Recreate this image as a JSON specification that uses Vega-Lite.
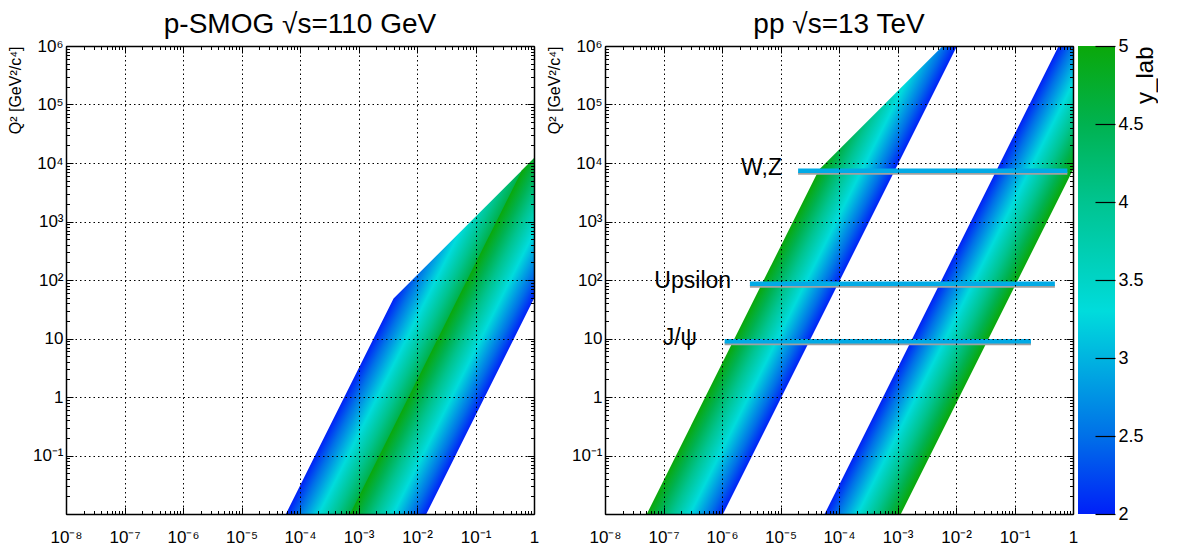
{
  "$schema": "https://vega.github.io/schema/vega-lite/v6.json",
  "background": "white",
  "padding": {"left": 6, "top": 11, "right": 0, "bottom": 0},
  "config": {
    "view": {"stroke": null},
    "font": "Liberation Sans",
    "axis": {"labelFont": "Liberation Sans", "titleFont": "Liberation Sans", "labelColor": "black", "titleColor": "black", "titleFontWeight": "normal"},
    "title": {"font": "Liberation Sans", "fontWeight": "normal", "fontSize": 28, "color": "black", "baseline": "alphabetic", "offset": -2}
  },
  "spacing": 6,
  "hconcat": [
    {
      "width": 468,
      "height": 468,
      "title": {"text": "p-SMOG √s=110 GeV", "frame": "group"},
      "layer": [
        {
          "data": {"values": [
            {"Q2": 0.01, "xlo": 5.731e-5, "xhi": 1.151e-3},
            {"Q2": 48.08, "xlo": 3.974e-3, "xhi": 0.07981},
            {"Q2": 7547, "xlo": 0.6237, "xhi": 1},
            {"Q2": 12100, "xlo": 1, "xhi": 1}
          ]},
          "mark": {"type": "area", "orient": "horizontal", "opacity": 1,
            "color": {"gradient": "linear", "x1": 0.4735, "y1": 0.3395, "x2": 0.6764, "y2": 0.4850,
              "stops": [{"offset": 0, "color": "#0020f8"}, {"offset": 0.1667, "color": "#0070e8"}, {"offset": 0.3333, "color": "#00b4e0"}, {"offset": 0.4333, "color": "#00dcdc"}, {"offset": 0.5, "color": "#00d4c6"}, {"offset": 0.6667, "color": "#00c490"}, {"offset": 0.8333, "color": "#00b250"}, {"offset": 1, "color": "#0aa80a"}]}},
          "encoding": {
            "x": {"field": "xlo", "type": "quantitative", "scale": {"type": "log", "domain": [1e-8, 1], "nice": false},
              "axis": {"orient": "bottom", "tickCount": 20, "labelOverlap": false, "labelFlush": false, "labelBound": false,
                "labelExpr": "abs(log(datum.value)/LN10-round(log(datum.value)/LN10))>0.001 ? '' : ['10⁻⁸','10⁻⁷','10⁻⁶','10⁻⁵','10⁻⁴','10⁻³','10⁻²','10⁻¹','1'][round(log(datum.value)/LN10)+8]",
                "labelFontSize": 17, "labelPadding": 22,
                "tickSize": {"condition": {"test": "abs(log(datum.value)/LN10-round(log(datum.value)/LN10))<0.001", "value": -7}, "value": -3.5},
                "tickColor": "black", "tickWidth": 1, "domainColor": "black", "domainWidth": 1.5,
                "grid": true, "gridColor": "black", "gridWidth": 1, "gridDash": [1.5, 3],
                "gridOpacity": {"condition": {"test": "abs(log(datum.value)/LN10-round(log(datum.value)/LN10))<0.001", "value": 1}, "value": 0},
                "title": "x", "titleAnchor": "end", "titleFontSize": 15, "titlePadding": 0, "zindex": 1}},
            "x2": {"field": "xhi"},
            "y": {"field": "Q2", "type": "quantitative", "scale": {"type": "log", "domain": [0.01, 1000000], "nice": false},
              "axis": {"orient": "left", "tickCount": 20, "labelOverlap": false, "labelFlush": false, "labelBound": false,
                "labelExpr": "abs(log(datum.value)/LN10-round(log(datum.value)/LN10))>0.001 ? '' : ['','10⁻¹','1','10','10²','10³','10⁴','10⁵','10⁶'][round(log(datum.value)/LN10)+2]",
                "labelFontSize": 17, "labelPadding": 10,
                "tickSize": {"condition": {"test": "abs(log(datum.value)/LN10-round(log(datum.value)/LN10))<0.001", "value": -7}, "value": -3.5},
                "tickColor": "black", "tickWidth": 1, "domainColor": "black", "domainWidth": 1.5,
                "grid": true, "gridColor": "black", "gridWidth": 1, "gridDash": [1.5, 3],
                "gridOpacity": {"condition": {"test": "abs(log(datum.value)/LN10-round(log(datum.value)/LN10))<0.001", "value": 1}, "value": 0},
                "title": "Q² [GeV²/c⁴]", "titleAnchor": "end", "titleFontSize": 16, "titlePadding": 7, "minExtent": 36, "maxExtent": 36, "zindex": 1}}
          }
        },
        {
          "data": {"values": [
            {"Q2": 0.01, "xlo": 7.179e-4, "xhi": 0.01442},
            {"Q2": 48.08, "xlo": 0.04978, "xhi": 1},
            {"Q2": 7547, "xlo": 0.6237, "xhi": 1},
            {"Q2": 12100, "xlo": 1, "xhi": 1}
          ]},
          "mark": {"type": "area", "orient": "horizontal", "opacity": 1,
            "color": {"gradient": "linear", "x1": 0.7138, "y1": 0.6905, "x2": 0.4997, "y2": 0.4834,
              "stops": [{"offset": 0, "color": "#0020f8"}, {"offset": 0.1667, "color": "#0070e8"}, {"offset": 0.3333, "color": "#00b4e0"}, {"offset": 0.4333, "color": "#00dcdc"}, {"offset": 0.5, "color": "#00d4c6"}, {"offset": 0.6667, "color": "#00c490"}, {"offset": 0.8333, "color": "#00b250"}, {"offset": 1, "color": "#0aa80a"}]}},
          "encoding": {
            "x": {"field": "xlo", "type": "quantitative", "scale": {"type": "log", "domain": [1e-8, 1], "nice": false},
              "axis": {"orient": "top", "tickCount": 20, "labels": false, "grid": false, "title": null,
                "tickSize": {"condition": {"test": "abs(log(datum.value)/LN10-round(log(datum.value)/LN10))<0.001", "value": -7}, "value": -3.5},
                "tickColor": "black", "tickWidth": 1, "domainColor": "black", "domainWidth": 1.5, "zindex": 1}},
            "x2": {"field": "xhi"},
            "y": {"field": "Q2", "type": "quantitative", "scale": {"type": "log", "domain": [0.01, 1000000], "nice": false},
              "axis": {"orient": "right", "tickCount": 20, "labels": false, "grid": false, "title": null,
                "tickSize": {"condition": {"test": "abs(log(datum.value)/LN10-round(log(datum.value)/LN10))<0.001", "value": -7}, "value": -3.5},
                "tickColor": "black", "tickWidth": 1, "domainColor": "black", "domainWidth": 1.5, "zindex": 1}}
          }
        }
      ],
      "resolve": {"axis": {"x": "independent", "y": "independent"}}
    },
    {
      "spacing": 0,
      "hconcat": [
        {
          "width": 468,
          "height": 468,
          "title": {"text": "pp √s=13 TeV", "frame": "group"},
          "layer": [
            {
              "data": {"values": [
                {"Q2": 0.01, "xlo": 5.183e-8, "xhi": 1.041e-6},
                {"Q2": 7674, "xlo": 4.541e-5, "xhi": 9.12e-4},
                {"Q2": 1000000, "xlo": 5.917e-3, "xhi": 0.01041}
              ]},
              "mark": {"type": "area", "orient": "horizontal", "opacity": 1,
                "color": {"gradient": "linear", "x1": 0.6374, "y1": 0.4807, "x2": 0.4808, "y2": 0.3626,
                  "stops": [{"offset": 0, "color": "#0020f8"}, {"offset": 0.1667, "color": "#0070e8"}, {"offset": 0.3333, "color": "#00b4e0"}, {"offset": 0.4333, "color": "#00dcdc"}, {"offset": 0.5, "color": "#00d4c6"}, {"offset": 0.6667, "color": "#00c490"}, {"offset": 0.8333, "color": "#00b250"}, {"offset": 1, "color": "#0aa80a"}]}},
              "encoding": {
                "x": {"field": "xlo", "type": "quantitative", "scale": {"type": "log", "domain": [1e-8, 1], "nice": false},
                  "axis": {"orient": "bottom", "tickCount": 20, "labelOverlap": false, "labelFlush": false, "labelBound": false,
                    "labelExpr": "abs(log(datum.value)/LN10-round(log(datum.value)/LN10))>0.001 ? '' : ['10⁻⁸','10⁻⁷','10⁻⁶','10⁻⁵','10⁻⁴','10⁻³','10⁻²','10⁻¹','1'][round(log(datum.value)/LN10)+8]",
                    "labelFontSize": 17, "labelPadding": 22,
                    "tickSize": {"condition": {"test": "abs(log(datum.value)/LN10-round(log(datum.value)/LN10))<0.001", "value": -7}, "value": -3.5},
                    "tickColor": "black", "tickWidth": 1, "domainColor": "black", "domainWidth": 1.5,
                    "grid": true, "gridColor": "black", "gridWidth": 1, "gridDash": [1.5, 3],
                    "gridOpacity": {"condition": {"test": "abs(log(datum.value)/LN10-round(log(datum.value)/LN10))<0.001", "value": 1}, "value": 0},
                    "title": "x", "titleAnchor": "end", "titleFontSize": 15, "titlePadding": 0, "zindex": 1}},
                "x2": {"field": "xhi"},
                "y": {"field": "Q2", "type": "quantitative", "scale": {"type": "log", "domain": [0.01, 1000000], "nice": false},
                  "axis": {"orient": "left", "tickCount": 20, "labelOverlap": false, "labelFlush": false, "labelBound": false,
                    "labelExpr": "abs(log(datum.value)/LN10-round(log(datum.value)/LN10))>0.001 ? '' : ['','10⁻¹','1','10','10²','10³','10⁴','10⁵','10⁶'][round(log(datum.value)/LN10)+2]",
                    "labelFontSize": 17, "labelPadding": 10,
                    "tickSize": {"condition": {"test": "abs(log(datum.value)/LN10-round(log(datum.value)/LN10))<0.001", "value": -7}, "value": -3.5},
                    "tickColor": "black", "tickWidth": 1, "domainColor": "black", "domainWidth": 1.5,
                    "grid": true, "gridColor": "black", "gridWidth": 1, "gridDash": [1.5, 3],
                    "gridOpacity": {"condition": {"test": "abs(log(datum.value)/LN10-round(log(datum.value)/LN10))<0.001", "value": 1}, "value": 0},
                    "title": "Q² [GeV²/c⁴]", "titleAnchor": "end", "titleFontSize": 16, "titlePadding": 7, "minExtent": 36, "maxExtent": 36, "zindex": 1}}
              }
            },
            {
              "data": {"values": [
                {"Q2": 0.01, "xlo": 5.685e-5, "xhi": 1.142e-3},
                {"Q2": 7674, "xlo": 0.04978, "xhi": 1},
                {"Q2": 1000000, "xlo": 0.5684, "xhi": 1}
              ]},
              "mark": {"type": "area", "orient": "horizontal", "opacity": 1,
                "color": {"gradient": "linear", "x1": 0.4991, "y1": 0.4703, "x2": 0.6617, "y2": 0.6235,
                  "stops": [{"offset": 0, "color": "#0020f8"}, {"offset": 0.1667, "color": "#0070e8"}, {"offset": 0.3333, "color": "#00b4e0"}, {"offset": 0.4333, "color": "#00dcdc"}, {"offset": 0.5, "color": "#00d4c6"}, {"offset": 0.6667, "color": "#00c490"}, {"offset": 0.8333, "color": "#00b250"}, {"offset": 1, "color": "#0aa80a"}]}},
              "encoding": {
                "x": {"field": "xlo", "type": "quantitative", "scale": {"type": "log", "domain": [1e-8, 1], "nice": false},
                  "axis": {"orient": "top", "tickCount": 20, "labels": false, "grid": false, "title": null,
                    "tickSize": {"condition": {"test": "abs(log(datum.value)/LN10-round(log(datum.value)/LN10))<0.001", "value": -7}, "value": -3.5},
                    "tickColor": "black", "tickWidth": 1, "domainColor": "black", "domainWidth": 1.5, "zindex": 1}},
                "x2": {"field": "xhi"},
                "y": {"field": "Q2", "type": "quantitative", "scale": {"type": "log", "domain": [0.01, 1000000], "nice": false},
                  "axis": {"orient": "right", "tickCount": 20, "labels": false, "grid": false, "title": null,
                    "tickSize": {"condition": {"test": "abs(log(datum.value)/LN10-round(log(datum.value)/LN10))<0.001", "value": -7}, "value": -3.5},
                    "tickColor": "black", "tickWidth": 1, "domainColor": "black", "domainWidth": 1.5, "zindex": 1}}
              }
            },
            {
              "data": {"values": [
                {"name": "W,Z", "Q2": 7400, "xs": 2.0e-5, "xe": 0.8, "tx": 1.06e-5},
                {"name": "Upsilon", "Q2": 86, "xs": 3.0e-6, "xe": 0.49, "tx": 1.43e-6},
                {"name": "J/ψ", "Q2": 9.0, "xs": 1.11e-6, "xe": 0.191, "tx": 3.74e-7}
              ]},
              "layer": [
                {
                  "mark": {"type": "rule", "color": "#a0a0a0", "strokeWidth": 3, "yOffset": 2.5},
                  "encoding": {
                    "x": {"field": "xs", "type": "quantitative", "scale": {"type": "log", "domain": [1e-8, 1], "nice": false}, "axis": null},
                    "x2": {"field": "xe"},
                    "y": {"field": "Q2", "type": "quantitative", "scale": {"type": "log", "domain": [0.01, 1000000], "nice": false}, "axis": null}
                  }
                },
                {
                  "mark": {"type": "rule", "color": "#00aae6", "strokeWidth": 4.5},
                  "encoding": {
                    "x": {"field": "xs", "type": "quantitative", "scale": {"type": "log", "domain": [1e-8, 1], "nice": false}, "axis": null},
                    "x2": {"field": "xe"},
                    "y": {"field": "Q2", "type": "quantitative", "scale": {"type": "log", "domain": [0.01, 1000000], "nice": false}, "axis": null}
                  }
                },
                {
                  "mark": {"type": "text", "align": "right", "baseline": "middle", "fontSize": 23, "dy": -3, "font": "Liberation Sans", "color": "black"},
                  "encoding": {
                    "x": {"field": "tx", "type": "quantitative", "scale": {"type": "log", "domain": [1e-8, 1], "nice": false}, "axis": null},
                    "y": {"field": "Q2", "type": "quantitative", "scale": {"type": "log", "domain": [0.01, 1000000], "nice": false}, "axis": null},
                    "text": {"field": "name"}
                  }
                }
              ]
            }
          ],
          "resolve": {"axis": {"x": "independent", "y": "independent"}}
        },
        {
          "width": 37,
          "height": 468,
          "title": {"text": " "},
          "data": {"values": [{"lo": 2, "hi": 5}]},
          "mark": {"type": "rect", "opacity": 1,
            "color": {"gradient": "linear", "x1": 0, "y1": 1, "x2": 0, "y2": 0,
              "stops": [{"offset": 0, "color": "#0020f8"}, {"offset": 0.1667, "color": "#0070e8"}, {"offset": 0.3333, "color": "#00b4e0"}, {"offset": 0.4333, "color": "#00dcdc"}, {"offset": 0.5, "color": "#00d4c6"}, {"offset": 0.6667, "color": "#00c490"}, {"offset": 0.8333, "color": "#00b250"}, {"offset": 1, "color": "#0aa80a"}]}},
          "encoding": {
            "y": {"field": "lo", "type": "quantitative", "scale": {"domain": [2, 5], "nice": false, "zero": false},
              "axis": {"orient": "right", "values": [2, 2.5, 3, 3.5, 4, 4.5, 5], "format": "~g", "labelFontSize": 18,
                "tickSize": -20, "labelPadding": 23, "tickColor": "black", "tickWidth": 1.2, "domain": false, "grid": false,
                "labelOverlap": false, "labelFlush": false, "labelBound": false,
                "title": "y_lab", "titleAngle": 270, "titleAnchor": "end", "titleFontSize": 24, "titlePadding": 14, "zindex": 1}},
            "y2": {"field": "hi"}
          }
        }
      ]
    }
  ]
}
